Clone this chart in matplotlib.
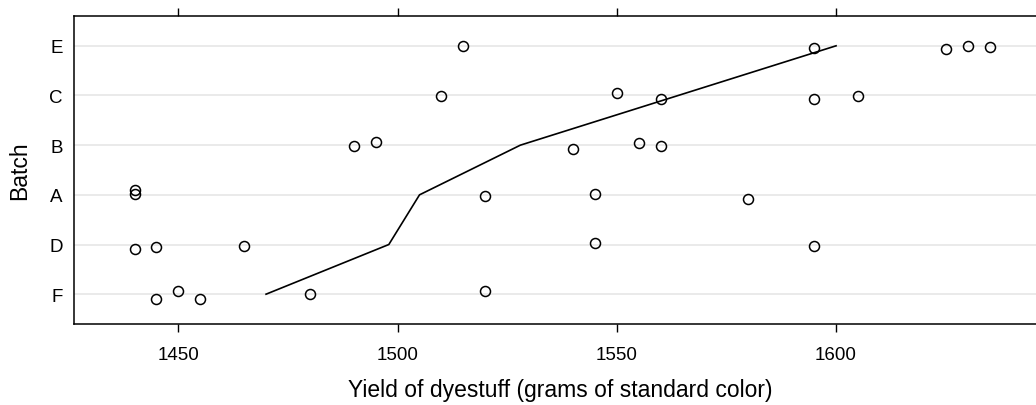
import numpy as np
import matplotlib.pyplot as plt

plt.rcParams['font.family'] = ['Liberation Sans', 'DejaVu Sans']

# batches in display order (bottom to top), ordered by mean yield
batches = ['F', 'D', 'A', 'B', 'C', 'E']
yields = {
    'F': [1445, 1450, 1455, 1480, 1520],
    'D': [1440, 1445, 1465, 1545, 1595],
    'A': [1440, 1440, 1520, 1545, 1580],
    'B': [1490, 1495, 1540, 1555, 1560],
    'C': [1510, 1550, 1560, 1595, 1605],
    'E': [1515, 1595, 1625, 1630, 1635],
}
# vertical jitter
jitter = {
    'F': [-0.10, 0.07, -0.10, 0.01, 0.06],
    'D': [-0.09, -0.05, -0.03, 0.04, -0.02],
    'A': [0.10, 0.02, -0.02, 0.02, -0.08],
    'B': [-0.02, 0.07, -0.07, 0.05, -0.02],
    'C': [-0.02, 0.06, -0.07, -0.08, -0.02],
    'E': [0.00, -0.045, -0.055, 0.005, -0.02],
}
xticks = [1450, 1500, 1550, 1600]

W, H = 1036, 406
fig = plt.figure(figsize=(W / 100, H / 100), dpi=100)
ax = fig.add_axes([74 / W, 1 - 325 / H, (1046 - 74) / W, (325 - 17) / H])

for i, b in enumerate(batches):
    ax.axhline(i + 1, color='#e6e6e6', lw=1.2, zorder=0)

for i, b in enumerate(batches):
    ys = np.array(jitter[b]) + i + 1
    ax.plot(yields[b], ys, 'o', mfc='none', mec='black', ms=7.2, mew=1.1)

means = [np.mean(yields[b]) for b in batches]
ax.plot(means, np.arange(1, len(batches) + 1), color='black', lw=1.2)

px = (1036 - 74) / (1645.6 - 1426.2)
ax.set_xlim(1426.2, 1426.2 + (1046 - 74) / px)
ax.set_ylim(0.4, 6.6)
ax.set_xticks(xticks)
ax.set_yticks(np.arange(1, len(batches) + 1))
ax.set_yticklabels(batches)
ax.tick_params(axis='x', top=True, bottom=True, direction='out', length=6,
               width=1, labelsize=13.5, pad=10)
ax.tick_params(axis='y', length=0, labelsize=13.5, pad=8)
for s in ax.spines.values():
    s.set_linewidth(1.1)
ax.set_xlabel('Yield of dyestuff (grams of standard color)', fontsize=16.5, labelpad=11)
ax.set_ylabel('Batch', fontsize=16.5, labelpad=13)

fig.savefig('out.png', dpi=100)
